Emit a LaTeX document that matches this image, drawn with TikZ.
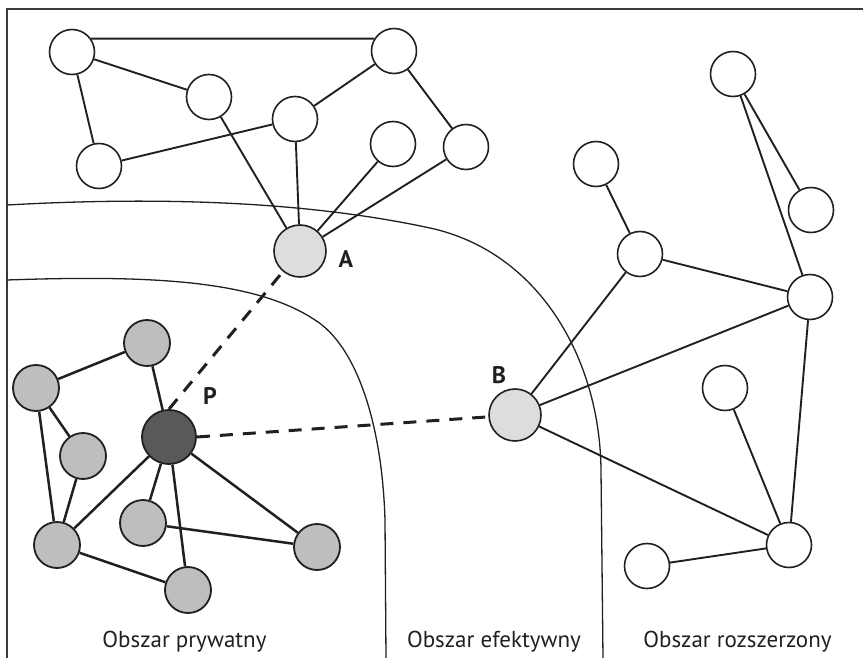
\documentclass[tikz,border=0pt]{standalone}
\usepackage{fontspec}
\setmainfont{PT Sans}
\definecolor{ink}{HTML}{231F20}
\definecolor{framegray}{HTML}{3A3A3C}
\definecolor{lightfill}{HTML}{DCDDDE}
\definecolor{midfill}{HTML}{BCBEC0}
\definecolor{darkfill}{HTML}{58595B}
\begin{document}
\begin{tikzpicture}[x=1pt,y=-1pt,
  peer/.style={circle, draw=ink, line width=1.6pt, fill=white, minimum size=45pt, inner sep=0pt},
  privpeer/.style={circle, draw=ink, line width=1.8pt, fill=midfill, minimum size=46pt, inner sep=0pt},
  gateway/.style={circle, draw=ink, line width=1.6pt, fill=lightfill, minimum size=52pt, inner sep=0pt},
  owner/.style={circle, draw=ink, line width=1.8pt, fill=darkfill, minimum size=54pt, inner sep=0pt},
  link/.style={draw=ink, line width=1.9pt},
  privlink/.style={draw=ink, line width=2.5pt},
  reach/.style={draw=ink, line width=3pt, dash pattern=on 13pt off 10pt},
  boundary/.style={draw=ink, line width=1.3pt},
  peerlabel/.style={font=\bfseries\fontsize{24}{24}\selectfont, text=ink, inner sep=0pt, anchor=base},
  zonelabel/.style={font=\fontsize{23}{23}\selectfont, text=ink, inner sep=0pt, anchor=base}
]
\useasboundingbox (0,0) rectangle (863,658);

% frame
\draw[framegray, line width=1.5pt] (863,9) -- (7,9) -- (7,658);

% zone boundaries
\draw[boundary] (7,205) .. controls (150,197) and (300,200) .. (430,228)
  .. controls (540,252) and (600,360) .. (601,470) -- (603,658);
\draw[boundary] (7,280) .. controls (150,275) and (255,280) .. (315,320)
  .. controls (355,345) and (382,420) .. (385,520) -- (386,658);

% upper network
\node[peer] (t1) at (72,52) {};
\node[peer] (t2) at (209,97) {};
\node[peer] (t3) at (99,166) {};
\node[peer] (t4) at (295,119) {};
\node[peer] (t5) at (394,51) {};
\node[peer] (t6) at (393,144) {};
\node[peer] (t7) at (466,147) {};
\node[gateway] (a) at (300,251) {};

% right network
\node[peer] (r1) at (733,74) {};
\node[peer] (r2) at (811,210) {};
\node[peer] (r3) at (596,164) {};
\node[peer] (r4) at (640,254) {};
\node[peer] (r5) at (810,297) {};
\node[peer] (r6) at (725,388) {};
\node[peer] (r7) at (789,545) {};
\node[peer] (r8) at (647,566) {};
\node[gateway] (b) at (515,415) {};

% private network
\node[privpeer] (g1) at (147,343) {};
\node[privpeer] (g2) at (36,388) {};
\node[privpeer] (g3) at (83,456) {};
\node[privpeer] (g4) at (143,523) {};
\node[privpeer] (g5) at (317,547) {};
\node[privpeer] (g6) at (57,545) {};
\node[privpeer] (g7) at (188,590) {};
\node[owner] (p) at (169,437) {};

% upper links
\draw[link] (t1.35) -- (t5.148);
\draw[link] (t1) -- (t2);
\draw[link] (t1) -- (t3);
\draw[link] (t3) -- (t4);
\draw[link] (t4) -- (t5);
\draw[link] (t5) -- (t7);
\draw[link] (t2) -- (a);
\draw[link] (t4) -- (a);
\draw[link] (t6) -- (a);
\draw[link] (t7) -- (a);

% right links
\draw[link] (r1) -- (r2);
\draw[link] (r1) -- (r5);
\draw[link] (r3) -- (r4);
\draw[link] (r4) -- (r5);
\draw[link] (r4) -- (b);
\draw[link] (b) -- (r5);
\draw[link] (b) -- (r7);
\draw[link] (r5) -- (r7);
\draw[link] (r6) -- (r7);
\draw[link] (r8) -- (r7);

% private links
\draw[privlink] (g2) -- (g1);
\draw[privlink] (g1) -- (p);
\draw[privlink] (g2) -- (g3);
\draw[privlink] (g2) -- (g6);
\draw[privlink] (g3) -- (g6);
\draw[privlink] (g6) -- (p);
\draw[privlink] (g6) -- (g7);
\draw[privlink] (p) -- (g4);
\draw[privlink] (p) -- (g7);
\draw[privlink] (p) -- (g5);
\draw[privlink] (g4) -- (g5);

% reach of the owner
\draw[reach] (p.north) -- (a);
\draw[reach] (p.east) -- (b);

% labels
\node[peerlabel] (la) at (346,267) {A};
\node[peerlabel] (lb) at (499,383) {B};
\node[peerlabel] (lp) at (210,404) {P};

\node[zonelabel] (z1) at (184.5,647) {Obszar prywatny};
\node[zonelabel] (z2) at (494,647) {Obszar efektywny};
\node[zonelabel] (z3) at (737.5,647) {Obszar rozszerzony};
\end{tikzpicture}
\end{document}
